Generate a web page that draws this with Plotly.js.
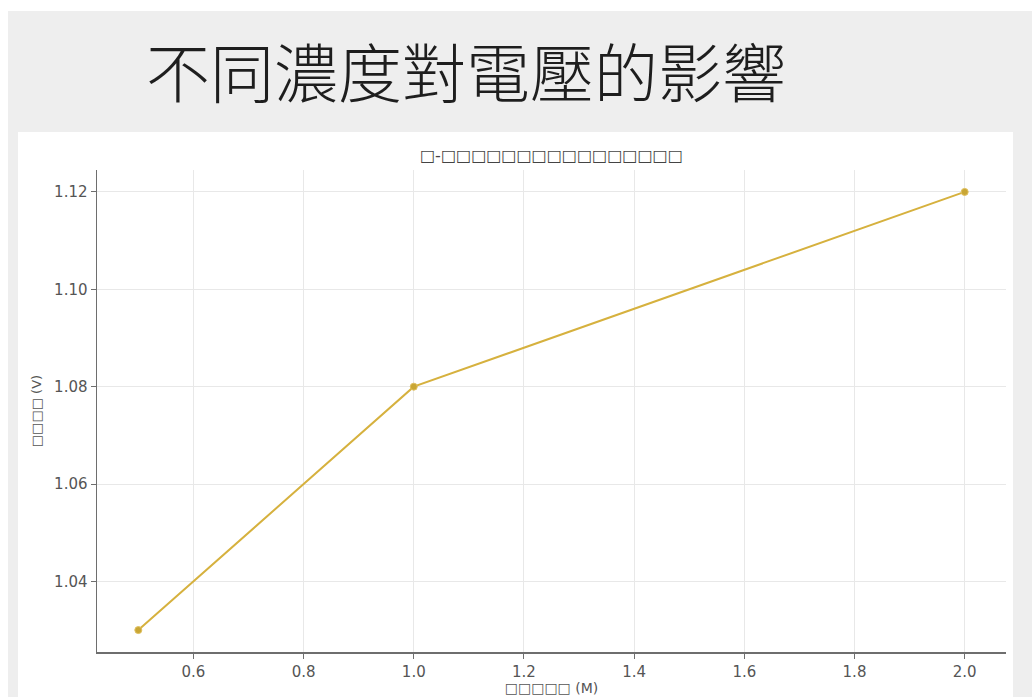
<!DOCTYPE html>
<html>
<head>
<meta charset="utf-8">
<script src="https://cdn.plot.ly/plotly-3.0.1.min.js"></script>
<style>
  html, body { margin: 0; padding: 0; background: #ffffff; }
  #chart { width: 1032px; height: 697px; }
</style>
</head>
<body>
<div id="chart"></div>
<script>
// Data
const concentration = [0.5, 1.0, 2.0];   // M
const voltage = [1.03, 1.08, 1.12];      // V

const slideTitle = "不同濃度對電壓的影響";
const chartTitle = "□-□□□□□□□□□□□□□□□□";
const xLabel = "□□□□□ (M)";
const yLabel = "□□□□ (V)";
const xTicks = [0.6, 0.8, 1.0, 1.2, 1.4, 1.6, 1.8, 2.0];
const xTickText = ["0.6", "0.8", "1.0", "1.2", "1.4", "1.6", "1.8", "2.0"];
const yTicks = [1.04, 1.06, 1.08, 1.10, 1.12];
const yTickText = ["1.04", "1.06", "1.08", "1.10", "1.12"];

const W = 1032, H = 697;
const mL = 97, mR = 26, mT = 170, mB = 45;
const pw = W - mL - mR, ph = H - mT - mB;
const px = x => (x - mL) / pw;           // pixel -> paper x
const py = y => (H - mB - y) / ph;       // pixel -> paper y

const trace = {
  x: concentration,
  y: voltage,
  type: 'scatter',
  mode: 'lines+markers',
  line: { color: '#d6b13e', width: 2 },
  marker: { color: '#c9a634', size: 7, line: { color: '#e0c060', width: 1 } },
  hoverinfo: 'x+y'
};

const layout = {
  width: W, height: H,
  paper_bgcolor: '#eeeeee',
  plot_bgcolor: 'rgba(0,0,0,0)',
  showlegend: false,
  margin: { l: mL, r: mR, t: mT, b: mB, pad: 0 },
  title: {
    text: slideTitle,
    font: { family: '"Noto Sans CJK TC", "Noto Sans CJK SC", sans-serif', size: 64, color: '#1e1e1e', weight: 300 },
    x: 466 / W, xanchor: 'center', xref: 'container',
    y: 1 - 75 / H, yanchor: 'middle', yref: 'container'
  },
  xaxis: {
    range: [0.425, 2.075],
    tickvals: xTicks, ticktext: xTickText,
    showgrid: true, gridcolor: '#e8e8e8', gridwidth: 1,
    zeroline: false,
    showline: true, linecolor: '#6e6e6e', linewidth: 1.5,
    ticks: 'outside', ticklen: 5, tickcolor: '#6e6e6e', tickwidth: 1,
    tickfont: { family: 'DejaVu Sans, sans-serif', size: 15, color: '#555555' },
    title: { text: xLabel, font: { family: 'DejaVu Sans, sans-serif', size: 14, color: '#555555' }, standoff: 3 },
    automargin: false,
    fixedrange: true
  },
  yaxis: {
    range: [1.0255, 1.1245],
    tickvals: yTicks, ticktext: yTickText,
    showgrid: true, gridcolor: '#e8e8e8', gridwidth: 1,
    zeroline: false,
    showline: true, linecolor: '#6e6e6e', linewidth: 1.5,
    ticks: 'outside', ticklen: 5, tickcolor: '#6e6e6e', tickwidth: 1,
    tickfont: { family: 'DejaVu Sans, sans-serif', size: 15, color: '#555555' },
    title: { text: yLabel, font: { family: 'DejaVu Sans, sans-serif', size: 13, color: '#555555' }, standoff: 9 },
    automargin: false,
    fixedrange: true
  },
  shapes: [
    // white chart card
    { type: 'rect', xref: 'paper', yref: 'paper', layer: 'below',
      x0: px(18), x1: px(1013), y0: py(H), y1: py(132),
      fillcolor: '#ffffff', line: { width: 0 } },
    // white strip at top
    { type: 'rect', xref: 'paper', yref: 'paper', layer: 'below',
      x0: px(0), x1: px(W), y0: py(11), y1: py(0),
      fillcolor: '#ffffff', line: { width: 0 } },
    // white strip at left
    { type: 'rect', xref: 'paper', yref: 'paper', layer: 'below',
      x0: px(0), x1: px(8), y0: py(H), y1: py(0),
      fillcolor: '#ffffff', line: { width: 0 } }
  ],
  annotations: [
    { text: chartTitle, xref: 'paper', yref: 'paper',
      x: 0.5, xanchor: 'center', y: py(155), yanchor: 'middle',
      showarrow: false,
      font: { family: 'DejaVu Sans, sans-serif', size: 16, color: '#444444' } }
  ]
};

Plotly.newPlot('chart', [trace], layout, { displayModeBar: false, staticPlot: true });
</script>
</body>
</html>
